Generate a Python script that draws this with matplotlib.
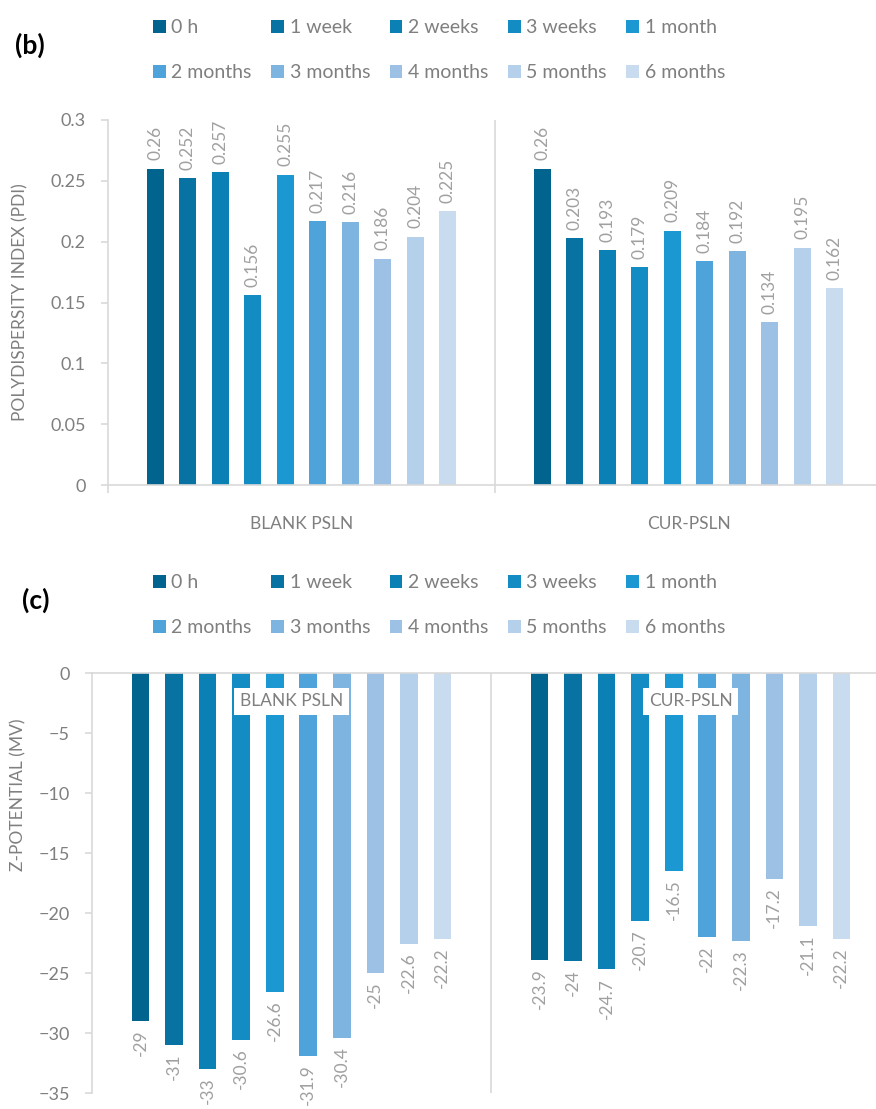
import matplotlib.pyplot as plt
import numpy as np

series = ['0 h', '1 week', '2 weeks', '3 weeks', '1 month',
          '2 months', '3 months', '4 months', '5 months', '6 months']
groups = ['BLANK PSLN', 'CUR-PSLN']

pdi_blank = [0.26, 0.252, 0.257, 0.156, 0.255, 0.217, 0.216, 0.186, 0.204, 0.225]
pdi_cur = [0.26, 0.203, 0.193, 0.179, 0.209, 0.184, 0.192, 0.134, 0.195, 0.162]
zp_blank = [-29, -31, -33, -30.6, -26.6, -31.9, -30.4, -25, -22.6, -22.2]
zp_cur = [-23.9, -24, -24.7, -20.7, -16.5, -22, -22.3, -17.2, -21.1, -22.2]

colors = ['#00648F', '#0873A2', '#0A80B5', '#138CC4', '#1B98D2',
          '#4EA3DB', '#7DB4E0', '#9DC1E4', '#B4D0EB', '#C9DBEF']

grid_c = '#D9D9D9'
txt_c = '#7F7F7F'
lab_c = '#A0A0A0'

plt.rcParams['font.family'] = ['Lato', 'DejaVu Sans']

W, H = 876, 1109
fig = plt.figure(figsize=(W / 100, H / 100), dpi=100)

ax1 = fig.add_axes([108 / W, 1 - 485 / H, 774 / W, 365 / H])
ax2 = fig.add_axes([92 / W, 1 - 1093 / H, 798 / W, 420 / H])

slot = 0.084
bw = 0.044
order = [0, 5, 1, 6, 2, 7, 3, 8, 4, 9]


def draw_bars(ax, blank, cur):
    x = np.arange(len(groups))
    bars = []
    for i, name in enumerate(series):
        b = ax.bar(x + (i - 4.5) * slot, [blank[i], cur[i]], width=bw,
                   color=colors[i], label=name)
        ax.bar_label(b, labels=[f'{v:g}' for v in b.datavalues], rotation=90,
                     padding=6, color=lab_c, fontsize=12.5)
        bars.append(b)
    return bars


def style_axes(ax):
    ax.set_axisbelow(False)
    ax.set_xlim(-0.5, 1.5)
    ax.axvline(0.5, color=grid_c, lw=1.2, zorder=0)
    ax.spines['right'].set_visible(False)
    for s in ax.spines.values():
        s.set_color(grid_c)
        s.set_linewidth(1.2)
    ax.tick_params(axis='y', length=5, color=grid_c, width=1.2, pad=11,
                   labelsize=13, labelcolor=txt_c)
    ax.set_xticks([0, 1], groups)
    ax.tick_params(axis='x', which='major', length=0, labelsize=12.5,
                   labelcolor=txt_c)


def add_legend(ax, bars, y_top):
    handles = [bars[i] for i in order]
    ax.legend(handles=handles, labels=[series[i] for i in order], ncol=5,
              loc='upper left', bbox_to_anchor=(153 / W, 1 - y_top / H),
              bbox_transform=fig.transFigure, frameon=False, fontsize=14,
              handlelength=0.65, handleheight=0.65, handletextpad=0.3,
              columnspacing=1.0, labelspacing=1.45, borderpad=0,
              borderaxespad=0, labelcolor=txt_c)


# (b) polydispersity index
bars1 = draw_bars(ax1, pdi_blank, pdi_cur)
style_axes(ax1)
ax1.set_ylim(0, 0.3)
ax1.set_yticks(np.arange(0, 0.31, 0.05), ['0', '0.05', '0.1', '0.15', '0.2', '0.25', '0.3'])
ax1.spines['top'].set_visible(False)
ax1.set_xticks([-0.5, 0.5, 1.5], minor=True)
ax1.tick_params(axis='x', which='minor', length=6, color=grid_c, width=1.2)
ax1.tick_params(axis='x', which='major', pad=22)
ax1.set_ylabel('POLYDISPERSITY INDEX (PDI)', fontsize=12.5, color=txt_c)
ax1.yaxis.set_label_coords(-80 / 774, 0.5)
add_legend(ax1, bars1, 19)
fig.text(15 / W, 1 - 45 / H, '(b)', fontsize=19, fontweight='bold', va='center')

# (c) zeta potential
bars2 = draw_bars(ax2, zp_blank, zp_cur)
style_axes(ax2)
ax2.set_ylim(-35, 0)
ax2.set_yticks(np.arange(-35, 1, 5))
ax2.spines['bottom'].set_visible(False)
ax2.xaxis.set_ticks_position('top')
ax2.tick_params(axis='x', which='major', pad=-26)
for lbl in ax2.get_xticklabels():
    lbl.set_bbox(dict(facecolor='white', edgecolor='none', pad=4))
ax2.set_ylabel('Z-POTENTIAL (MV)', fontsize=12.5, color=txt_c)
ax2.yaxis.set_label_coords(-66 / 798, 0.71)
add_legend(ax2, bars2, 574)
fig.text(22 / W, 1 - 600 / H, '(c)', fontsize=19, fontweight='bold', va='center')

fig.savefig('out.png', dpi=100)
